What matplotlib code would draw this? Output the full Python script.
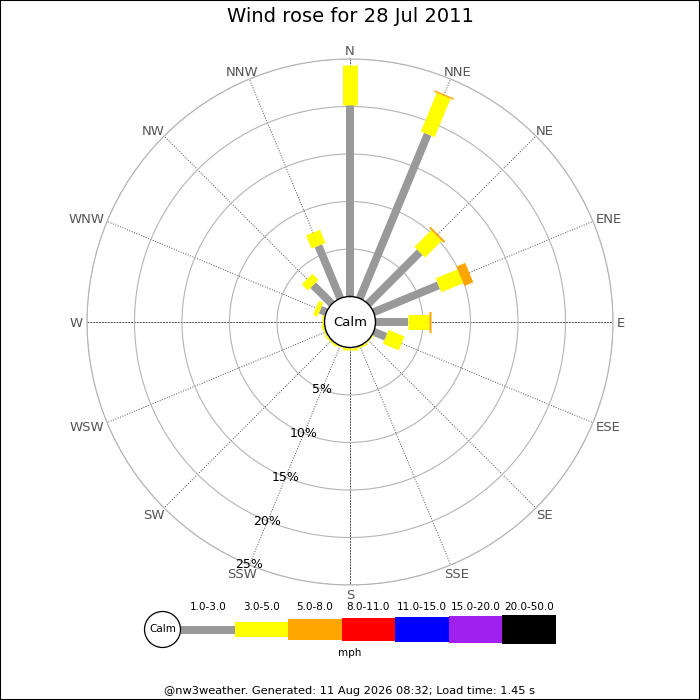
import numpy as np
import matplotlib
matplotlib.use('Agg')
import matplotlib.pyplot as plt
from matplotlib.patches import Rectangle, Circle

# ---------------- data ----------------
directions = ['N', 'NNE', 'NE', 'ENE', 'E', 'ESE', 'SE', 'SSE',
              'S', 'SSW', 'SW', 'WSW', 'W', 'WNW', 'NW', 'NNW']
speed_classes = ['1.0-3.0', '3.0-5.0', '5.0-8.0', '8.0-11.0',
                 '11.0-15.0', '15.0-20.0', '20.0-50.0']
class_colors = ['#999999', '#ffff00', '#ffa500', '#ff0000',
                '#0000ff', '#a020f0', '#000000']
# percent of time per direction for each speed class (mph)
pct_1_3 = [20.2, 18.7, 7.7, 7.4, 3.4, 1.4, 0.05, 0.1,
           0.1, 0.05, 0.1, 0.1, 0.1, 0.7, 2.8, 6.0]
pct_3_5 = [4.2, 4.4, 2.5, 2.5, 2.2, 1.8, 0.1, 0.15,
           0.15, 0.1, 0.15, 0.15, 0.15, 0.5, 0.9, 1.5]
pct_5_8 = [0.0, 0.15, 0.2, 1.0, 0.25, 0.0, 0.0, 0.0,
           0.0, 0.0, 0.0, 0.0, 0.0, 0.0, 0.0, 0.0]
pct_8_11 = [0.0] * 16
pct_11_15 = [0.0] * 16
pct_15_20 = [0.0] * 16
pct_20_50 = [0.0] * 16
ring_values = [5, 10, 15, 20, 25]
title = 'Wind rose for 28 Jul 2011'
unit = 'mph'
footer = '@nw3weather. Generated: 11 Aug 2026 08:32; Load time: 1.45 s'

series = [pct_1_3, pct_3_5, pct_5_8, pct_8_11, pct_11_15, pct_15_20, pct_20_50]

# ---------------- style ----------------
DPI = 100
bar_px = [8, 15, 21, 23, 25, 27, 29]
px2pt = 72.0 / DPI

fig = plt.figure(figsize=(7, 7), dpi=DPI)
fig.patch.set_facecolor('white')

# overlay axes in pixel coordinates for legend / frame
lax = fig.add_axes([0, 0, 1, 1])
lax.set_xlim(0, 700)
lax.set_ylim(700, 0)
lax.axis('off')

# polar axes
cx, cy, R = 350, 322, 263
ax = fig.add_axes([(cx - R) / 700, (700 - cy - R) / 700, 2 * R / 700, 2 * R / 700],
                  projection='polar')
ax.set_theta_zero_location('N')
ax.set_theta_direction(-1)
rmax = ring_values[-1]
calm_px = 25.5
ax.set_rorigin(-calm_px / (R - calm_px) * rmax)
ax.set_ylim(0, rmax)
ax.set_xticks([])
ax.set_yticks(ring_values)
ax.set_yticklabels([])
ax.yaxis.grid(True, color='#b4b4b4', lw=0.8, linestyle='-')
ax.xaxis.grid(False)
ax.spines['polar'].set_color('#b4b4b4')
ax.spines['polar'].set_linewidth(0.8)
ax.spines['inner'].set_color('black')
ax.spines['inner'].set_linewidth(1.0)
ax.spines['inner'].set_zorder(5)

thetas = np.deg2rad(np.arange(16) * 22.5)

# spokes
for i, th in enumerate(thetas):
    ls = (0, (2.0, 1.0)) if i % 4 == 0 else (0, (1.0, 1.6))
    ax.plot([th, th], [0, rmax], color='#505050', lw=0.7, linestyle=ls, zorder=1)

# bars
for i, th in enumerate(thetas):
    start = 0.0
    for k, s in enumerate(series):
        v = s[i]
        if v <= 0:
            continue
        ax.plot([th, th], [start, start + v], color=class_colors[k],
                lw=bar_px[k] * px2pt, solid_capstyle='butt', zorder=3 + k * 0.01)
        start += v

# percent labels along SSW
lab_th = np.deg2rad(202.5)
for rv in ring_values:
    ax.text(lab_th, rv, f'{rv}%', ha='center', va='center', fontsize=9,
            color='black', zorder=6)

# calm text
ax.text(0.5, 0.5, 'Calm', transform=ax.transAxes, ha='center', va='center',
        fontsize=9.5, color='black', zorder=6)

# direction labels
dir_texts = []
for d, th in zip(directions, thetas):
    t = ax.annotate(d, xy=(th, rmax), xycoords='data', xytext=(0, 0),
                    textcoords='offset points', ha='center', va='baseline',
                    fontsize=9.5, color='#555555', annotation_clip=False)
    dir_texts.append(t)

fig.canvas.draw()
renderer = fig.canvas.get_renderer()
cap_h = 9.5 / px2pt * 0.73
pad = 4.0
for t, th in zip(dir_texts, thetas):
    w = t.get_window_extent(renderer).width
    s, c = np.sin(th), np.cos(th)
    dx = s * (w / 2 + pad)
    dy = c * (cap_h / 2 + pad) - cap_h / 2
    t.xyann = (dx * px2pt, dy * px2pt)

# legend
leg_y = 629.5
x0 = 181.0
seg = 53.5
lefts = [x0 + k * seg for k in range(len(speed_classes))]
heights = bar_px
lax.bar(lefts, heights, width=seg, align='edge',
        bottom=[leg_y - h / 2 for h in heights], color=class_colors, linewidth=0)
for k, lab in enumerate(speed_classes):
    lax.text(lefts[k] + seg / 2, 607, lab, ha='center', va='center', fontsize=7.5)
lax.add_patch(Circle((162.5, leg_y), 18, facecolor='white', edgecolor='black', lw=0.9))
lax.text(162.5, leg_y, 'Calm', ha='center', va='center', fontsize=7.5)
lax.text(350, 653, unit, ha='center', va='center', fontsize=7.5)

# title and footer
fig.text(0.5, 1 - 17 / 700, title, ha='center', va='center', fontsize=14)
fig.text(0.5, 1 - 691 / 700, footer, ha='center', va='center', fontsize=8.2)

# frame
fig.add_artist(Rectangle((0, 0), 1, 1, transform=fig.transFigure, fill=False,
                         edgecolor='black', lw=1.5))

fig.savefig('out.png', dpi=DPI, facecolor='white')
